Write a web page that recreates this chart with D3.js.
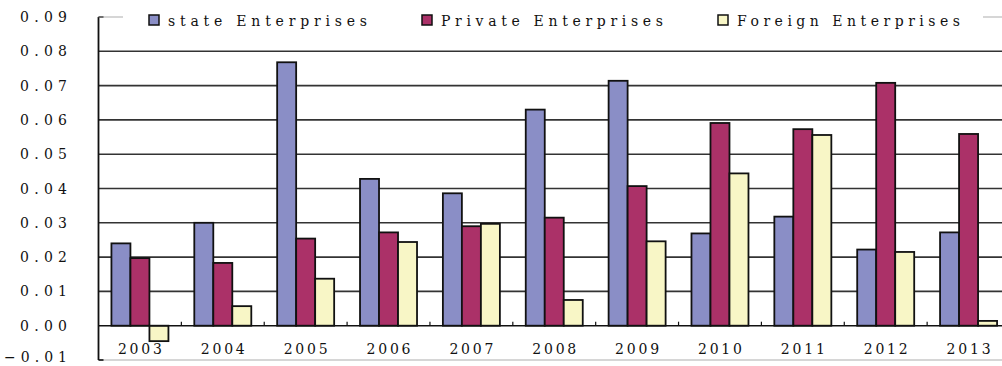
<!DOCTYPE html>
<html>
<head>
<meta charset="utf-8">
<script src="https://cdn.jsdelivr.net/npm/d3@7"></script>
<style>
  html, body { margin: 0; padding: 0; background: #fff; }
  svg { display: block; }
  text { font-family: "DejaVu Serif", "Liberation Serif", serif; fill: #111; }
</style>
</head>
<body>
<svg id="chart" width="1002" height="366"></svg>
<script>
const years = ["2003","2004","2005","2006","2007","2008","2009","2010","2011","2012","2013"];
const seriesNames = ["state Enterprises", "Private Enterprises", "Foreign Enterprises"];
const stateValues   = [0.0240, 0.0300, 0.0768, 0.0428, 0.0386, 0.0630, 0.0714, 0.0269, 0.0318, 0.0222, 0.0272];
const privateValues = [0.0197, 0.0183, 0.0254, 0.0272, 0.0290, 0.0315, 0.0407, 0.0591, 0.0573, 0.0708, 0.0559];
const foreignValues = [-0.0045, 0.0057, 0.0137, 0.0244, 0.0297, 0.0075, 0.0246, 0.0444, 0.0556, 0.0215, 0.0014];
const yTicks = [-0.01, 0, 0.01, 0.02, 0.03, 0.04, 0.05, 0.06, 0.07, 0.08, 0.09];
const colors = ["#8a8ec6", "#ab3168", "#f8f6c6"];

const allSeries = [stateValues, privateValues, foreignValues];

const svg = d3.select("#chart");
const plotLeft = 98.5, plotRight = 1010, plotTop = 17, plotBottom = 360;

const x = d3.scaleBand().domain(years).range([plotLeft, plotRight]).paddingInner(0).paddingOuter(0);
const groupW = 57;
const x1 = d3.scaleBand().domain(d3.range(3)).range([0, groupW]);
const y = d3.scaleLinear().domain([-0.01, 0.09]).range([plotBottom, plotTop]);

// plot border lines (light gray top and bottom)
svg.append("line").attr("x1", plotLeft).attr("x2", plotRight).attr("y1", y(0.09)).attr("y2", y(0.09))
  .attr("stroke", "#c8c8c8").attr("stroke-width", 1.5);
svg.append("line").attr("x1", plotLeft).attr("x2", plotRight).attr("y1", y(-0.01)).attr("y2", y(-0.01))
  .attr("stroke", "#c8c8c8").attr("stroke-width", 1.5);

// gridlines
svg.append("g").selectAll("line").data(yTicks.filter(t => t > 0 && t < 0.09)).join("line")
  .attr("x1", plotLeft).attr("x2", plotRight)
  .attr("y1", d => y(d)).attr("y2", d => y(d))
  .attr("stroke", "#333").attr("stroke-width", 1.6);

// bars
const groups = svg.append("g").selectAll("g").data(years).join("g")
  .attr("transform", d => `translate(${x(d) + (x.bandwidth() - groupW) / 2},0)`);
groups.selectAll("rect").data((d, i) => allSeries.map((s, k) => ({k, v: s[i]}))).join("rect")
  .attr("x", d => x1(d.k))
  .attr("width", x1.bandwidth())
  .attr("y", d => y(Math.max(0, d.v)))
  .attr("height", d => Math.abs(y(d.v) - y(0)))
  .attr("fill", d => colors[d.k])
  .attr("stroke", "#111").attr("stroke-width", 1.8);

// zero axis line
svg.append("line").attr("x1", plotLeft).attr("x2", plotRight).attr("y1", y(0)).attr("y2", y(0))
  .attr("stroke", "#111").attr("stroke-width", 1.6);

// x ticks between categories (small upward marks)
svg.append("g").selectAll("line").data(years.slice(1)).join("line")
  .attr("x1", d => x(d)).attr("x2", d => x(d))
  .attr("y1", y(0)).attr("y2", y(0) - 4)
  .attr("stroke", "#111").attr("stroke-width", 1.2);

// y axis line
svg.append("line").attr("x1", plotLeft).attr("x2", plotLeft).attr("y1", y(0.09)).attr("y2", y(-0.01))
  .attr("stroke", "#111").attr("stroke-width", 1.8);
svg.append("line").attr("x1", plotLeft).attr("x2", plotLeft + 5).attr("y1", y(-0.01)).attr("y2", y(-0.01))
  .attr("stroke", "#111").attr("stroke-width", 1.6);
svg.append("line").attr("x1", plotLeft).attr("x2", plotLeft + 5).attr("y1", y(0.09)).attr("y2", y(0.09))
  .attr("stroke", "#555").attr("stroke-width", 1.6);

// y labels
const fmt = d3.format(".2f");
svg.append("g").selectAll("text").data(yTicks).join("text")
  .attr("x", 67).attr("y", d => Math.min(y(d) + 5, 362))
  .attr("text-anchor", "end")
  .attr("font-size", 14)
  .attr("textLength", d => d < 0 ? 63 : 47)
  .attr("lengthAdjust", "spacing")
  .text(d => fmt(d).replace("-", "\u2212"));

// x labels
svg.append("g").selectAll("text").data(years).join("text")
  .attr("x", d => x(d) + x.bandwidth() / 2)
  .attr("y", 354)
  .attr("text-anchor", "middle")
  .attr("font-size", 14)
  .attr("textLength", 44)
  .attr("lengthAdjust", "spacing")
  .text(d => d);

// legend
const legend = svg.append("g");
legend.append("rect").attr("x", 123).attr("y", 7).attr("width", 860).attr("height", 24).attr("fill", "#fff");
const legendX = [149, 422, 718];
const legendLen = [199, 222, 223];
const items = legend.selectAll("g").data(seriesNames).join("g")
  .attr("transform", (d, i) => `translate(${legendX[i]},0)`);
items.append("rect").attr("x", 0).attr("y", 15).attr("width", 10).attr("height", 10)
  .attr("fill", (d, i) => colors[i]).attr("stroke", "#111").attr("stroke-width", 1.5);
items.append("text").attr("x", 19).attr("y", 25.5)
  .attr("font-size", 14)
  .attr("textLength", (d, i) => legendLen[i])
  .attr("lengthAdjust", "spacing")
  .text(d => d);
</script>
</body>
</html>
